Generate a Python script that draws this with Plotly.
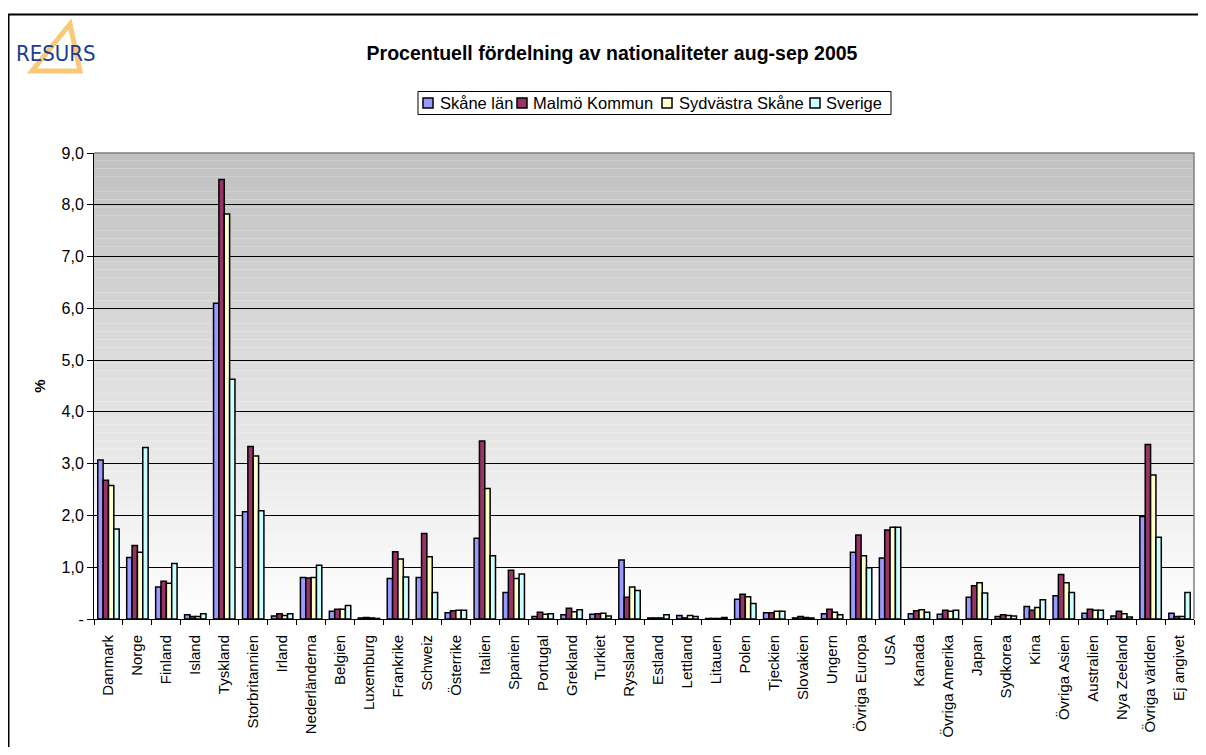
import plotly.graph_objects as go

categories = ["Danmark", "Norge", "Finland", "Island", "Tyskland", "Storbritannien", "Irland",
              "Nederländerna", "Belgien", "Luxemburg", "Frankrike", "Schweiz", "Österrike",
              "Italien", "Spanien", "Portugal", "Grekland", "Turkiet", "Ryssland", "Estland",
              "Lettland", "Litauen", "Polen", "Tjeckien", "Slovakien", "Ungern", "Övriga Europa",
              "USA", "Kanada", "Övriga Amerika", "Japan", "Sydkorea", "Kina", "Övriga Asien",
              "Australien", "Nya Zeeland", "Övriga världen", "Ej angivet"]

skane_lan = [3.07, 1.19, 0.62, 0.08, 6.10, 2.07, 0.06, 0.80, 0.15, 0.02, 0.78, 0.80, 0.12,
             1.56, 0.51, 0.05, 0.08, 0.09, 1.14, 0.02, 0.07, 0.01, 0.38, 0.12, 0.02, 0.10, 1.29,
             1.18, 0.10, 0.09, 0.42, 0.05, 0.24, 0.45, 0.11, 0.06, 1.98, 0.11]
malmo_kommun = [2.68, 1.42, 0.73, 0.05, 8.49, 3.33, 0.10, 0.79, 0.19, 0.03, 1.30, 1.65, 0.16,
                3.44, 0.94, 0.13, 0.21, 0.10, 0.42, 0.02, 0.02, 0.01, 0.48, 0.12, 0.05, 0.19, 1.62,
                1.72, 0.16, 0.17, 0.64, 0.08, 0.17, 0.86, 0.19, 0.15, 3.37, 0.05]
sydvastra_skane = [2.58, 1.29, 0.69, 0.05, 7.82, 3.15, 0.07, 0.80, 0.19, 0.02, 1.16, 1.20, 0.17,
                   2.52, 0.78, 0.09, 0.14, 0.11, 0.62, 0.02, 0.07, 0.01, 0.43, 0.15, 0.03, 0.13, 1.22,
                   1.77, 0.18, 0.15, 0.70, 0.07, 0.22, 0.70, 0.17, 0.10, 2.78, 0.05]
sverige = [1.74, 3.31, 1.07, 0.10, 4.63, 2.09, 0.10, 1.04, 0.26, 0.01, 0.81, 0.51, 0.17,
           1.22, 0.87, 0.10, 0.18, 0.06, 0.55, 0.08, 0.05, 0.03, 0.30, 0.15, 0.02, 0.08, 0.99,
           1.77, 0.13, 0.17, 0.50, 0.06, 0.37, 0.51, 0.17, 0.04, 1.58, 0.51]

series_names = ["Skåne län", "Malmö Kommun", "Sydvästra Skåne", "Sverige"]
series_values = [skane_lan, malmo_kommun, sydvastra_skane, sverige]
series_colors = ["#9999FF", "#993366", "#FFFFCC", "#CCFFFF"]

y_tick_values = [0, 1, 2, 3, 4, 5, 6, 7, 8, 9]
y_tick_labels = ["-", "1,0", "2,0", "3,0", "4,0", "5,0", "6,0", "7,0", "8,0", "9,0"]

fig = go.Figure()
for name, vals, col in zip(series_names, series_values, series_colors):
    fig.add_trace(go.Bar(x=categories, y=vals, name=name, showlegend=False,
                         marker=dict(color=col, line=dict(color="black", width=1.5))))

# page offset (body margin) and geometry in window px
OX, OY = 8, 8
W, H = 1206 - 2 * OX, 755 - 2 * OY
L, R, T, B = 94 - OX, 1194 - OX, 153 - OY, 619 - OY
pw, ph = R - L, B - T


def px_x(x):
    return (x - OX - L) / pw


def px_y(y):
    return (B - (y - OY)) / ph


shapes = []
# gradient background
n = 60
for i in range(n):
    y0 = 9 * i / n
    y1 = 9 * (i + 1) / n
    f = (i + 0.5) / n
    c = int(round(255 - (255 - 192) * f))
    shapes.append(dict(type="rect", xref="x domain", yref="y", x0=0, x1=1, y0=y0, y1=y1,
                       fillcolor=f"rgb({c},{c},{c})", line=dict(width=0), layer="below"))
# plot area border (gray, top and right)
shapes.append(dict(type="path", xref="x domain", yref="y domain",
                   path="M 0 1 L 1 1 L 1 0", line=dict(color="#808080", width=1.5)))
# outer border (right and bottom edges run outside the page)
shapes.append(dict(type="rect", xref="paper", yref="paper",
                   x0=px_x(8.5), x1=px_x(1230), y0=px_y(790), y1=px_y(14.5),
                   line=dict(color="black", width=2), fillcolor="rgba(0,0,0,0)"))
# logo triangle
shapes.append(dict(type="path", xref="paper", yref="paper",
                   path=f"M {px_x(70)} {px_y(24)} L {px_x(32)} {px_y(71)} L {px_x(80)} {px_y(71)} Z",
                   line=dict(color="#F9C977", width=5), fillcolor="rgba(0,0,0,0)"))

# legend (box, swatches, labels)
legend_box = (418, 891, 91.5, 114.5)
swatch_x = [423, 517, 662, 810]
text_x = [438, 531, 677, 824]
shapes.append(dict(type="rect", xref="paper", yref="paper",
                   x0=px_x(legend_box[0]), x1=px_x(legend_box[1]),
                   y0=px_y(legend_box[3]), y1=px_y(legend_box[2]),
                   line=dict(color="black", width=1), fillcolor="white"))
for sx, col in zip(swatch_x, series_colors):
    shapes.append(dict(type="rect", xref="paper", yref="paper",
                       x0=px_x(sx), x1=px_x(sx + 10), y0=px_y(108), y1=px_y(98),
                       line=dict(color="black", width=1.5), fillcolor=col))
annotations = []
for tx, name in zip(text_x, series_names):
    annotations.append(dict(text=name, xref="paper", yref="paper", x=px_x(tx), y=px_y(103),
                            xanchor="left", yanchor="middle", showarrow=False,
                            font=dict(size=16.5, color="black")))
annotations.append(dict(text="RESURS", xref="paper", yref="paper", x=px_x(14), y=px_y(53),
                        xanchor="left", yanchor="middle", showarrow=False,
                        font=dict(family="DejaVu Sans Condensed, Liberation Sans Narrow, Arial Narrow, sans-serif",
                                  size=22, color="#1B3D8F")))

fig.update_layout(
    width=W, height=H,
    margin=dict(l=L, r=W - R, t=T, b=H - B, autoexpand=False),
    paper_bgcolor="white", plot_bgcolor="rgba(0,0,0,0)",
    barmode="group", bargap=0.26, bargroupgap=0,
    font=dict(family="Arial, Liberation Sans, sans-serif", size=16, color="black"),
    title=dict(text="<b>Procentuell fördelning av nationaliteter aug-sep 2005</b>",
               x=(612 - OX) / W, xanchor="center", xref="container",
               y=1 - (53 - OY) / H, yanchor="middle", yref="container",
               font=dict(size=19.5, color="black")),
    shapes=shapes,
    annotations=annotations,
    showlegend=False,
)
fig.update_xaxes(type="category", tickangle=-90, ticks="outside", tickson="boundaries",
                 ticklen=5, tickcolor="black", showline=True, linecolor="black", linewidth=1,
                 showgrid=False, tickfont=dict(size=15), ticklabelstandoff=9, automargin=False)
fig.update_yaxes(range=[0, 9], tickvals=y_tick_values, ticktext=y_tick_labels,
                 ticks="outside", ticklen=6, tickcolor="black", showline=True,
                 linecolor="black", linewidth=1, showgrid=True, gridcolor="black",
                 gridwidth=1, zeroline=False, tickfont=dict(size=16), automargin=False,
                 title=dict(text="<b>%</b>", font=dict(size=15), standoff=12))

fig.write_html("out.html")
